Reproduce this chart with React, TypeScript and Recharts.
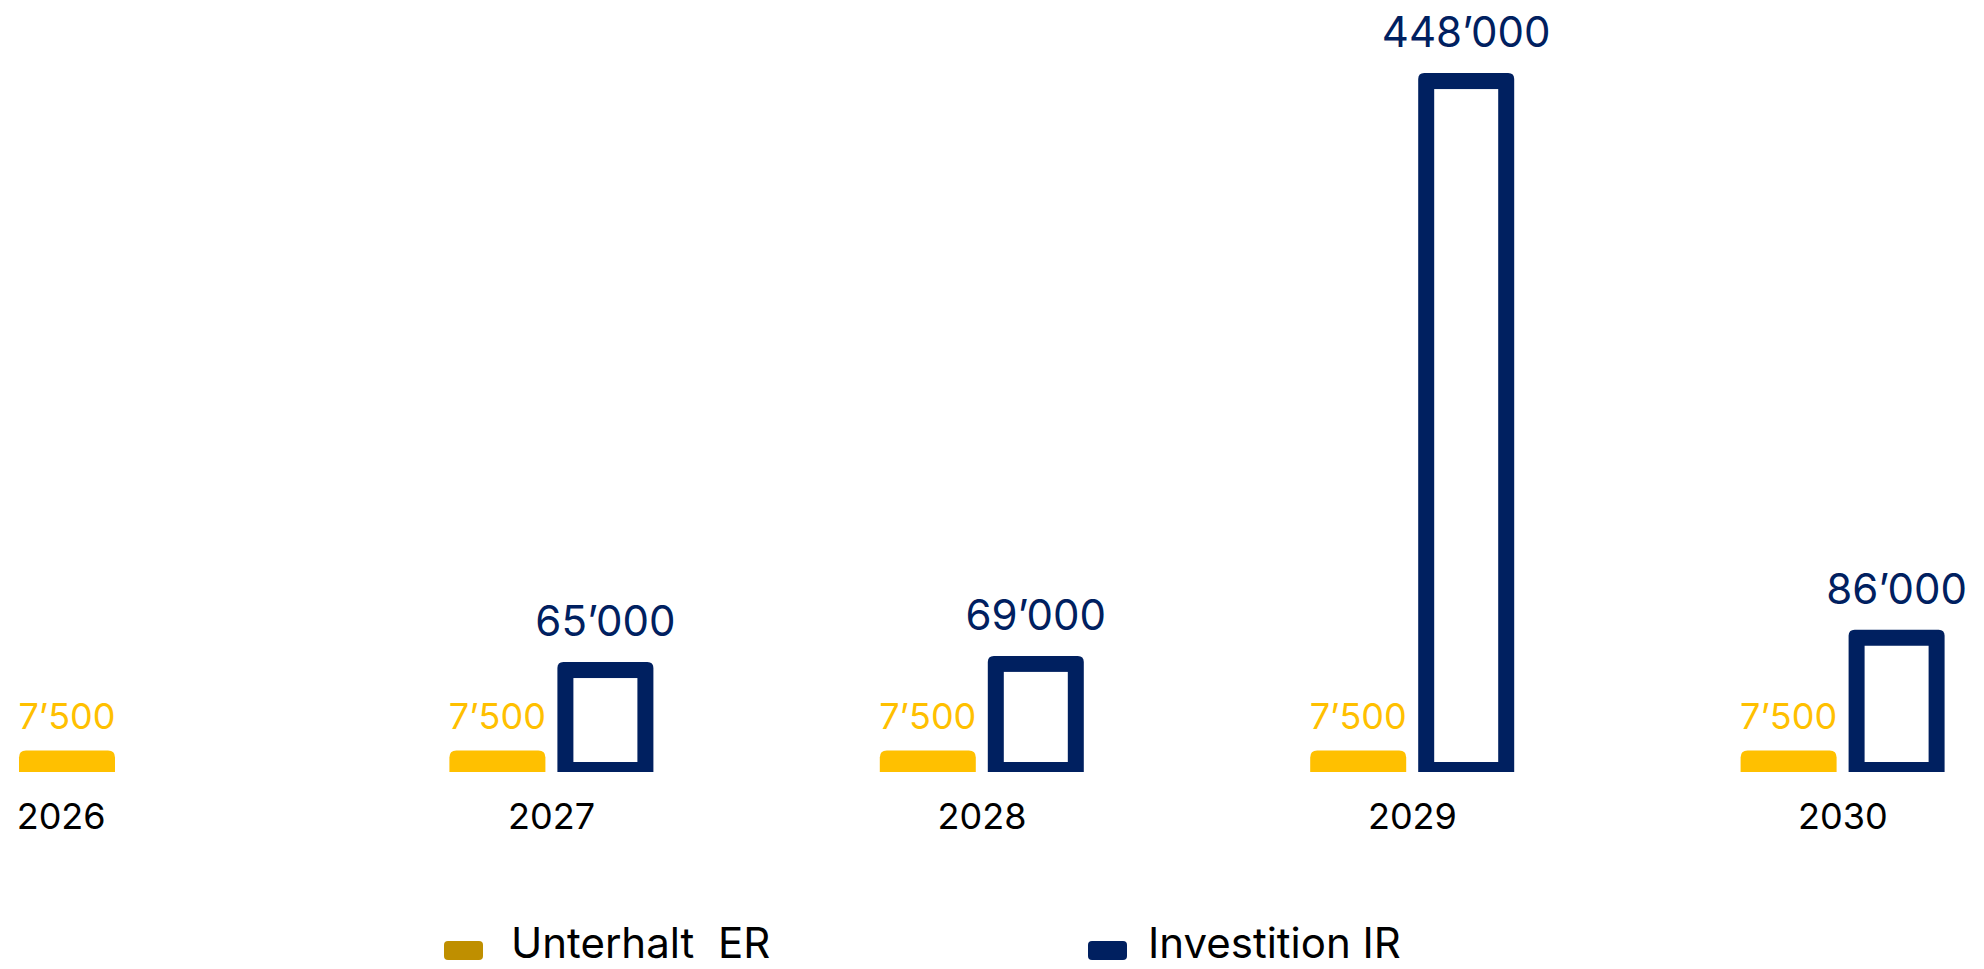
import { BarChart, Bar, XAxis, YAxis, LabelList, Legend } from 'recharts';

const years = ['2026', '2027', '2028', '2029', '2030'];
const unterhaltER = [7500, 7500, 7500, 7500, 7500];
const investitionIR: (number | null)[] = [null, 65000, 69000, 448000, 86000];
const seriesNames = ['Unterhalt  ER', 'Investition IR'];

const YELLOW = '#FFC000';
const GOLD = '#BF8F00';
const NAVY = '#002060';
const FONT = 'Inter, "Liberation Sans", Arial, sans-serif';

const data = years.map((year, i) => ({
  year,
  er: unterhaltER[i],
  ir: investitionIR[i],
}));

// 7500 -> 7’500
const fmt = (v: any) =>
  v == null ? '' : String(v).replace(/\B(?=(\d{3})+(?!\d))/g, '\u2019');

// bars run a little past the zero line (down to the plot edge)
const SINK = 10;

function topRounded(x: number, y: number, w: number, h: number, r: number) {
  return `M${x},${y + h} L${x},${y + r} Q${x},${y} ${x + r},${y} L${x + w - r},${y} Q${x + w},${y} ${x + w},${y + r} L${x + w},${y + h} Z`;
}

function ErShape(props: any) {
  const { x, y, width, height } = props;
  if (!width || height == null || height <= 0) return null;
  return <path d={topRounded(x, y, width, height + SINK, 7)} fill={YELLOW} />;
}

function IrShape(props: any) {
  const { x, y, width, height } = props;
  if (!width || height == null || height <= 0) return null;
  const s = 16;
  return (
    <g>
      <path d={topRounded(x, y, width, height + SINK, 6)} fill={NAVY} />
      <rect
        x={x + s}
        y={y + s}
        width={width - 2 * s}
        height={Math.max(0, height - s)}
        fill="#fff"
      />
    </g>
  );
}

function YearTick(props: any) {
  const { x, y, payload, index } = props;
  const first = index === 0;
  return (
    <text
      x={first ? x - 104.5 : x}
      y={y + 57}
      textAnchor={first ? 'start' : 'middle'}
      fontSize={36}
      fontFamily={FONT}
      fill="#000"
    >
      {payload.value}
    </text>
  );
}

const legendColors = [GOLD, NAVY];
const legendGaps = [28, 21];

function LegendContent() {
  return (
    <div
      style={{
        display: 'flex',
        alignItems: 'flex-start',
        height: 52,
        paddingLeft: 538,
        fontFamily: FONT,
        fontSize: 42,
        color: '#000',
      }}
    >
      {seriesNames.map((name, i) => (
        <div
          key={name}
          style={{
            display: 'flex',
            alignItems: 'flex-start',
            width: i === 0 ? 644 : 'auto',
          }}
        >
          <span
            style={{
              display: 'inline-block',
              width: 39,
              height: 19,
              borderRadius: 4,
              marginTop: 24,
              background: legendColors[i],
              marginRight: legendGaps[i],
            }}
          />
          <span style={{ whiteSpace: 'pre', lineHeight: 'normal' }}>{name}</span>
        </div>
      ))}
    </div>
  );
}

export default function App() {
  return (
    <div
      style={{
        position: 'absolute',
        left: 0,
        top: 0,
        width: 1984,
        height: 969,
        overflow: 'hidden',
        background: '#fff',
      }}
    >
      <div style={{ position: 'absolute', left: -94, top: 0 }}>
        <BarChart
          width={2152}
          height={969}
          data={data}
          margin={{ top: 70, right: 0, left: 0, bottom: 0 }}
          barSize={96}
          barGap={12}
        >
          <XAxis
            dataKey="year"
            axisLine={false}
            tickLine={false}
            tickSize={0}
            tickMargin={0}
            height={145}
            interval={0}
            tick={(p: any) => <YearTick {...p} />}
          />
          <YAxis hide domain={[-6500, 450000]} allowDataOverflow />
          <Legend verticalAlign="bottom" content={() => <LegendContent />} />
          <Bar
            dataKey="er"
            name={seriesNames[0]}
            shape={ErShape}
            isAnimationActive={false}
          >
            <LabelList
              dataKey="er"
              position="top"
              offset={21}
              formatter={fmt}
              fill={YELLOW}
              fontSize={36}
              fontFamily={FONT}
            />
          </Bar>
          <Bar
            dataKey="ir"
            name={seriesNames[1]}
            shape={IrShape}
            isAnimationActive={false}
          >
            <LabelList
              dataKey="ir"
              position="top"
              offset={26}
              formatter={fmt}
              fill={NAVY}
              fontSize={42}
              fontFamily={FONT}
            />
          </Bar>
        </BarChart>
      </div>
    </div>
  );
}
